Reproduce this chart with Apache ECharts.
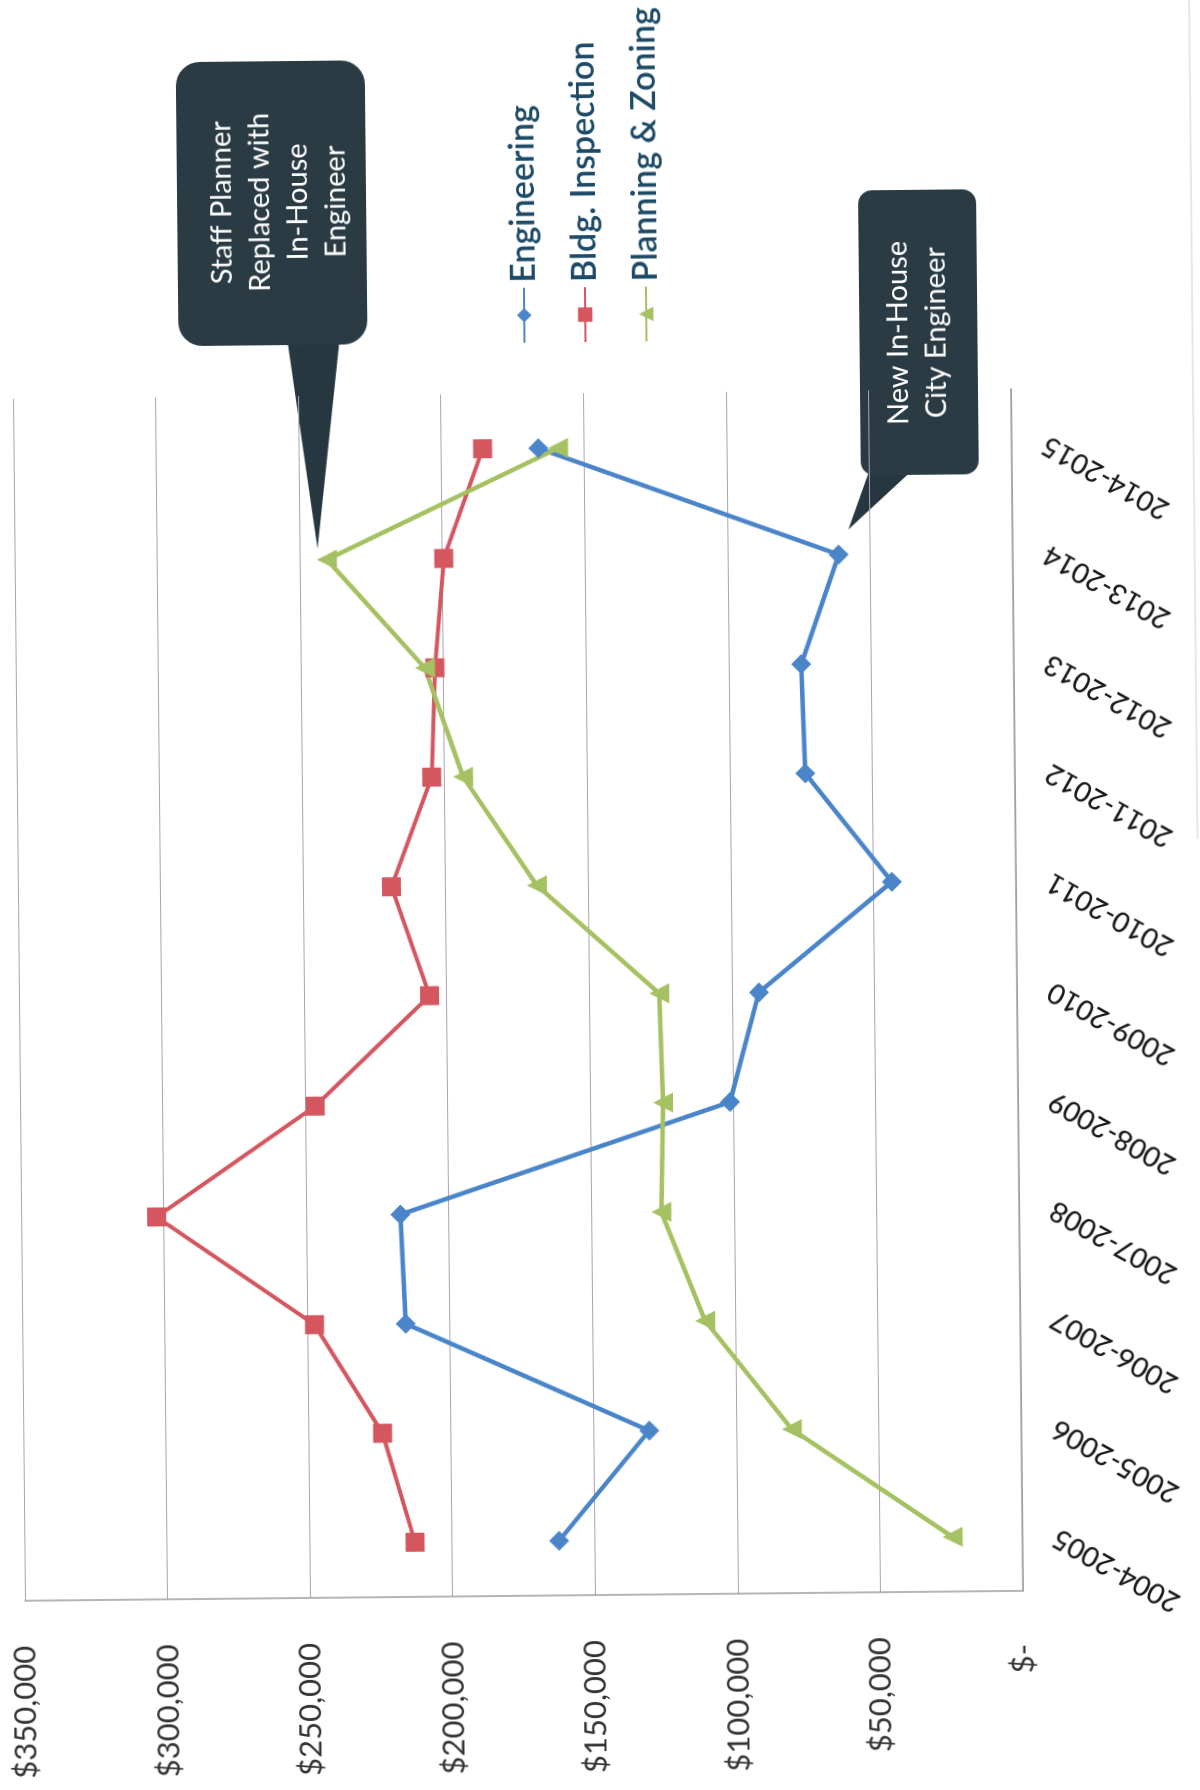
<!DOCTYPE html>
<html lang="en">
<head>
    <meta charset="UTF-8">
    <title>Department costs 2004-2015</title>
    <script src="https://cdn.jsdelivr.net/npm/echarts@6/dist/echarts.min.js"></script>
    <style>
        html, body { margin: 0; padding: 0; background: #fff; width: 1200px; height: 1790px; overflow: hidden; }
        /* the scanned page is turned on its side, so the chart is drawn landscape and rotated */
        #chart {
            position: absolute;
            width: 1790px; height: 1200px;
            left: -295px; top: 295px;
            transform-origin: 50% 50%;
            transform: rotate(-90.57deg);
        }
    </style>
</head>
<body>
<div id="chart"></div>

<script>
    var years = ['2004-2005', '2005-2006', '2006-2007', '2007-2008', '2008-2009', '2009-2010',
                 '2010-2011', '2011-2012', '2012-2013', '2013-2014', '2014-2015'];
    var engineering = [162500, 130500, 215500, 217000, 101000, 90500, 43500, 73500, 74500, 61000, 166000];
    var bldgInspection = [213000, 224000, 247500, 302500, 246500, 206000, 219000, 204500, 203000, 199500, 185500];
    var planningZoning = [24500, 80500, 110500, 125500, 124500, 125500, 168000, 193500, 206500, 240500, 159000];
    var valueTicks = [0, 50000, 100000, 150000, 200000, 250000, 300000, 350000];

    var font = 'Lato';
    var myChart = echarts.init(document.getElementById('chart'));

    function money(v) {
        if (v === 0) return '$- ';
        return '$' + v.toLocaleString('en-US');
    }

    myChart.setOption({
        animation: false,
        backgroundColor: '#fff',
        grid: { left: 195, right: 393, top: 18, bottom: 184 },
        legend: {
            orient: 'vertical',
            left: 1442, top: 507,
            itemWidth: 55, itemHeight: 18, itemGap: 25,
            textStyle: { fontFamily: font, fontSize: 34, fontWeight: 600, color: '#1d4a66', lineHeight: 36 },
            data: ['Engineering', 'Bldg. Inspection', 'Planning & Zoning']
        },
        xAxis: {
            type: 'category',
            data: years,
            boundaryGap: true,
            axisLine: { lineStyle: { color: '#9c9c9c', width: 1.5 } },
            axisTick: { show: false },
            axisLabel: { interval: 0, rotate: 60, margin: 33, fontFamily: font, fontSize: 28, fontWeight: 500, color: '#1a1a1a' },
            splitLine: { show: false }
        },
        yAxis: {
            type: 'value',
            min: valueTicks[0],
            max: valueTicks[valueTicks.length - 1],
            interval: 50000,
            axisLine: { show: true, lineStyle: { color: '#9c9c9c', width: 1.5 } },
            axisTick: { show: false },
            axisLabel: { margin: 45, fontFamily: font, fontSize: 31, color: '#333', formatter: money },
            splitLine: { lineStyle: { color: '#a9a4b4', width: 1.2 } }
        },
        series: [
            {
                name: 'Engineering', type: 'line', data: engineering,
                symbol: 'diamond', symbolSize: 20,
                itemStyle: { color: '#4a84c9' },
                lineStyle: { width: 4.5, color: '#4a84c9' }
            },
            {
                name: 'Bldg. Inspection', type: 'line', data: bldgInspection,
                symbol: 'rect', symbolSize: 19,
                itemStyle: { color: '#d4565f' },
                lineStyle: { width: 4, color: '#d4565f' }
            },
            {
                name: 'Planning & Zoning', type: 'line', data: planningZoning,
                symbol: 'triangle', symbolSize: 20,
                itemStyle: { color: '#a5c161' },
                lineStyle: { width: 4.5, color: '#a5c161' }
            }
        ],
        graphic: [
            // callout: staff planner
            {
                type: 'group', z: 100,
                children: [
                    { type: 'polygon', shape: { points: [[1452, 293], [1244, 321], [1452, 345]] },
                      style: { fill: '#27373f' } },
                    { type: 'rect', shape: { x: 1448, y: 184, width: 284, height: 189, r: 24 },
                      style: { fill: '#2a3b44' } },
                    { type: 'text', x: 1591, y: 286,
                      style: { text: 'Staff Planner\nReplaced with\nIn-House\nEngineer', fill: '#fff',
                               font: '29px Lato', lineHeight: 38, align: 'center', verticalAlign: 'middle' } }
                ]
            },
            // callout: new city engineer
            {
                type: 'group', z: 100,
                children: [
                    { type: 'polygon', shape: { points: [[1318, 874], [1258, 852], [1318, 918]] },
                      style: { fill: '#27373f' } },
                    { type: 'rect', shape: { x: 1312, y: 865, width: 285, height: 118, r: 14 },
                      style: { fill: '#2a3b44' } },
                    { type: 'text', x: 1454, y: 923,
                      style: { text: 'New In-House\nCity Engineer', fill: '#fff',
                               font: '29px Lato', lineHeight: 38, align: 'center', verticalAlign: 'middle' } }
                ]
            },
            // edge of the scanned sheet
            { type: 'line', z: 1, shape: { x1: 945, y1: 1198, x2: 1790, y2: 1198 },
              style: { stroke: '#cfcfcf', lineWidth: 1 } }
        ]
    });
</script>
</body>
</html>
